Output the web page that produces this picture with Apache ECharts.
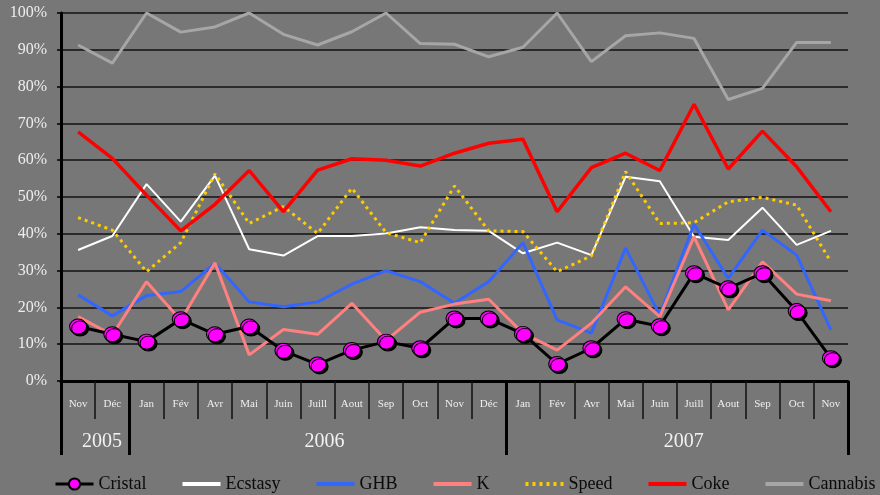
<!DOCTYPE html>
<html>
<head>
<meta charset="utf-8">
<script src="https://cdn.jsdelivr.net/npm/echarts@6/dist/echarts.min.js"></script>
<style>
  html, body { margin: 0; padding: 0; background: #777777; }
  #main { width: 880px; height: 495px; }
</style>
</head>
<body>
<div id="main"></div>
<script>
    var myChart = echarts.init(document.getElementById('main'));

    // mois (pas de Mars dans les relevés)
    var months = ['Nov', 'Déc',
        'Jan', 'Fév', 'Avr', 'Mai', 'Juin', 'Juill', 'Aout', 'Sep', 'Oct', 'Nov', 'Déc',
        'Jan', 'Fév', 'Avr', 'Mai', 'Juin', 'Juill', 'Aout', 'Sep', 'Oct', 'Nov'];
    var years = ['2005', '2006', '2007'];
    var yearBounds = [0, 2, 13, 23];      // limites entre années (en index de mois)
    var yearCenters = [1.2, 7.7, 18.2];

    var cristal  = [14.8, 12.7, 10.7, 16.8, 12.7, 14.8, 8.2, 4.5, 8.4, 10.7, 8.9, 17.0, 17.0,
                    12.8, 4.6, 8.9, 16.8, 14.9, 29.3, 25.2, 29.3, 19.0, 6.2];
    var ecstasy  = [35.6, 39.4, 53.5, 43.3, 55.8, 35.8, 34.1, 39.4, 39.4, 40.1, 41.8, 41.0, 40.8,
                    34.7, 37.6, 34.2, 55.5, 54.3, 39.2, 38.3, 47.1, 37.0, 40.8];
    var ghb      = [23.4, 17.7, 23.2, 24.3, 32.0, 21.5, 20.2, 21.5, 26.3, 30.0, 27.0, 21.1, 27.0,
                    37.6, 16.6, 13.0, 36.1, 17.9, 42.6, 27.9, 41.0, 34.2, 13.9];
    var k        = [17.5, 12.5, 27.0, 16.5, 32.1, 7.1, 14.0, 12.7, 21.1, 11.0, 18.7, 20.9, 22.2,
                    13.0, 8.4, 15.7, 25.6, 17.5, 39.2, 19.3, 32.4, 23.6, 21.8];
    var speed    = [44.4, 41.0, 29.7, 37.6, 56.3, 42.8, 47.4, 40.1, 52.4, 40.3, 37.6, 53.0, 40.8,
                    40.6, 29.7, 34.0, 56.9, 42.8, 43.0, 48.7, 49.9, 47.8, 32.4];
    var coke     = [67.7, 60.5, 50.5, 40.8, 48.0, 57.2, 46.0, 57.3, 60.4, 60.0, 58.4, 61.9, 64.6,
                    65.7, 46.0, 58.0, 61.9, 57.2, 75.2, 57.6, 67.9, 58.2, 46.0];
    var cannabis = [91.3, 86.4, 100, 94.8, 96.2, 100, 94.2, 91.3, 94.9, 100, 91.7, 91.5, 88.1,
                    90.7, 100, 86.8, 93.8, 94.6, 93.1, 76.5, 79.5, 92.0, 92.0];

    var serif = '"Liberation Serif", "Times New Roman", serif';

    function lineSerie(name, data, color, width, type) {
        return {
            name: name,
            type: 'line',
            data: data,
            showSymbol: false,
            symbol: 'none',
            lineStyle: { color: color, width: width, type: type || 'solid' },
            itemStyle: { color: color }
        };
    }

    // pas de rond dans la légende sauf pour Cristal
    function legendItem(name) {
        if (name == 'Cristal') {
            return { name: name, lineStyle: { width: 3 } };
        }
        return {
            name: name,
            itemStyle: { opacity: 0, borderWidth: 0 },
            lineStyle: { width: 4 }
        };
    }

    var option = {
        backgroundColor: '#777777',
        animation: false,
        legend: {
            top: 475,
            left: 54,
            width: 900,
            padding: 0,
            itemWidth: 38,
            itemHeight: 14,
            itemGap: 34,
            textStyle: { fontFamily: serif, fontSize: 18, color: '#0a0a0a' },
            data: ['Cristal', 'Ecstasy', 'GHB', 'K', 'Speed', 'Coke', 'Cannabis'].map(legendItem)
        },
        grid: {
            left: 61,
            right: 32,
            top: 13,
            bottom: 114
        },
        xAxis: [{
            type: 'category',
            data: months,
            boundaryGap: true,
            axisLine: { lineStyle: { color: '#000', width: 3 } },
            axisTick: {
                show: true,
                interval: 0,
                length: 38,
                lineStyle: { color: '#111', width: 1.5 }
            },
            axisLabel: {
                interval: 0,
                margin: 18,
                fontFamily: serif,
                fontSize: 11,
                color: '#eeeeee'
            },
            splitLine: { show: false }
        }, {
            type: 'value',
            position: 'bottom',
            min: 0,
            max: 23,
            axisLine: { show: false },
            axisTick: {
                show: true,
                customValues: yearBounds,
                length: 74,
                lineStyle: { color: '#000', width: 3 }
            },
            axisLabel: {
                customValues: yearCenters,
                margin: 51,
                fontFamily: serif,
                fontSize: 20,
                color: '#f2f2f2',
                formatter: function (v) {
                    var idx = yearCenters.indexOf(v);
                    return idx >= 0 ? years[idx] : '';
                }
            },
            splitLine: { show: false }
        }],
        yAxis: {
            type: 'value',
            min: 0,
            max: 100,
            interval: 10,
            axisLine: { show: true, lineStyle: { color: '#000', width: 3 } },
            axisTick: { show: true, length: 4, lineStyle: { color: '#000', width: 1.5 } },
            axisLabel: {
                margin: 14,
                fontFamily: serif,
                fontSize: 16,
                color: '#eeeeee',
                formatter: '{value}%'
            },
            splitLine: { lineStyle: { color: '#111', width: 1.5 } }
        },
        series: [
            {
                name: 'Cristal',
                type: 'line',
                data: cristal,
                z: 10,
                symbol: 'circle',
                symbolSize: [17, 15],
                lineStyle: { color: '#000', width: 3 },
                itemStyle: {
                    color: '#ff00ff',
                    borderColor: '#000',
                    borderWidth: 1,
                    shadowColor: '#000',
                    shadowOffsetX: 2,
                    shadowOffsetY: 2,
                    shadowBlur: 0
                }
            },
            lineSerie('Ecstasy', ecstasy, '#ffffff', 2),
            lineSerie('GHB', ghb, '#3366ff', 3),
            lineSerie('K', k, '#ff8080', 3),
            lineSerie('Speed', speed, '#ffcc00', 3, [3, 4]),
            lineSerie('Coke', coke, '#ff0000', 3.5),
            lineSerie('Cannabis', cannabis, '#a6a6a6', 3)
        ]
    };

    myChart.setOption(option);
</script>
</body>
</html>
